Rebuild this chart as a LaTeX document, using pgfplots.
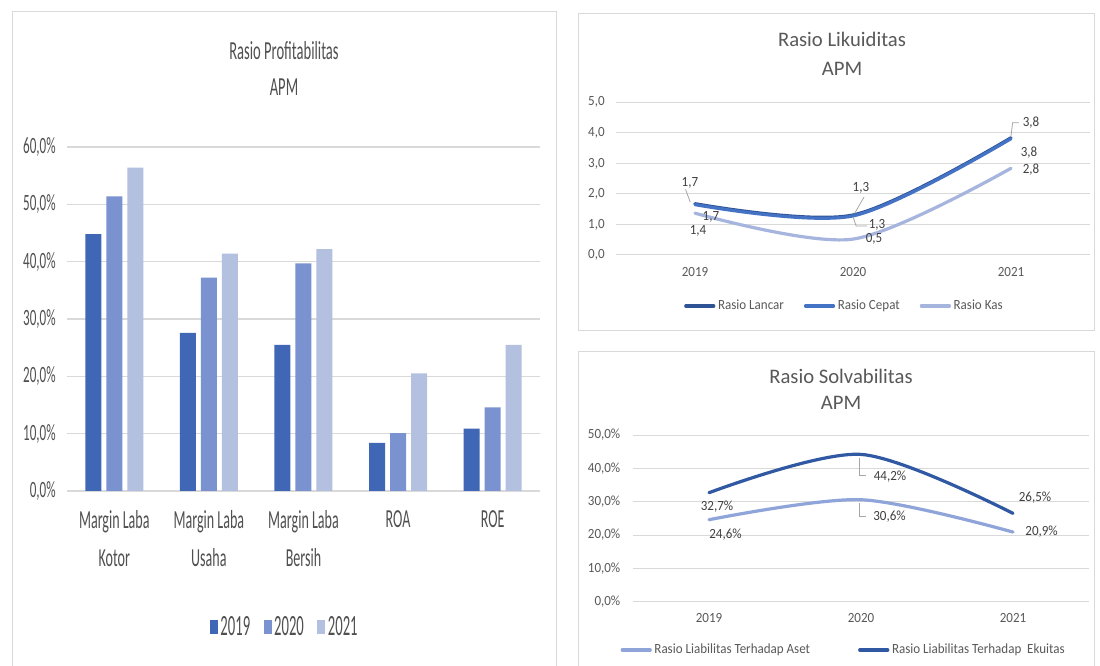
\documentclass[border=0pt]{standalone}
\usepackage{pgfplots}
\pgfplotsset{compat=1.18}
\usepackage{fontspec}
\setmainfont{Carlito}
\newfontfamily\nar[FakeStretch=0.54]{Carlito}
\newfontfamily\nart[FakeStretch=0.56]{Carlito}
\newfontfamily\narr[FakeStretch=0.5]{Carlito}
\newfontfamily\rt[FakeStretch=0.93]{Carlito}
\definecolor{txt}{HTML}{595959}
\definecolor{ltxt}{HTML}{505050}
\definecolor{dlab}{HTML}{404040}
\definecolor{gridc}{HTML}{D9D9D9}
\definecolor{framec}{HTML}{D9D9D9}
\definecolor{bA}{HTML}{3F67B5}
\definecolor{bB}{HTML}{7A92CF}
\definecolor{bC}{HTML}{B4C0E0}
\definecolor{lLan}{HTML}{2F5496}
\definecolor{lCep}{HTML}{4472C4}
\definecolor{lKas}{HTML}{A5B5DE}
\definecolor{sEk}{HTML}{3058A3}
\definecolor{sAs}{HTML}{8FA4D9}
\pgfplotsset{
  sqleg/.style={legend image code/.code={\fill[##1] (0pt,-5.5pt) rectangle (6pt,5.5pt);}},
  lnleg/.style={legend image code/.code={\draw[##1] (0pt,0pt) -- (21pt,0pt);}},
}
\begin{document}
\begin{tikzpicture}
\path[use as bounding box, fill=white] (0,0) rectangle (825pt,499.5pt);
% panel frames
\draw[framec, line width=0.75pt] (9pt,-2pt) -- (9pt,490.5pt) -- (417pt,490.5pt) -- (417pt,-2pt);
\draw[framec, line width=0.75pt] (433.5pt,251.25pt) rectangle (820.5pt,489pt);
\draw[framec, line width=0.75pt] (433.5pt,-2pt) -- (433.5pt,235.5pt) -- (820.5pt,235.5pt) -- (820.5pt,-2pt);

% ---------- Left: Rasio Profitabilitas ----------
\node[anchor=base, font=\nart\fontsize{19.5}{22}\selectfont, text=ltxt] at (213pt,454.5pt) {Rasio Profitabilitas};
\node[anchor=base, font=\nart\fontsize{19.5}{22}\selectfont, text=ltxt] at (213pt,427.5pt) {APM};
\begin{axis}[
  at={(50.25pt,131.25pt)}, anchor=south west, scale only axis,
  width=354.75pt, height=258pt,
  xmin=-0.5, xmax=4.5, ymin=0, ymax=60,
  ybar=3.75pt, bar width=12pt,
  axis line style={draw=none}, major tick length=0pt,
  ymajorgrids, grid style={gridc, line width=0.9pt},
  ytick={0,10,20,30,40,50,60},
  yticklabels={{0,0\%},{10,0\%},{20,0\%},{30,0\%},{40,0\%},{50,0\%},{60,0\%}},
  yticklabel style={font=\nart\fontsize{17.5}{20}\selectfont, text=ltxt, xshift=-5pt},
  xtick={0,1,2,3,4},
  xticklabels={{Margin Laba\\Kotor},{Margin Laba\\Usaha},{Margin Laba\\Bersih},{ROA},{ROE}},
  xticklabel style={align=center, font=\nar\fontsize{19.5}{28.5}\selectfont, text=ltxt, yshift=-11pt},
  legend style={at={(0.461,-0.395)}, anchor=center, draw=none, fill=none,
    font=\narr\fontsize{22}{24}\selectfont, text=ltxt,
    /tikz/every even column/.append style={column sep=8pt}},
  legend columns=3,
  clip=false,
]
\addplot[fill=bA, draw=none, sqleg] coordinates {(0,44.8) (1,27.6) (2,25.5) (3,8.4) (4,10.9)};
\addplot[fill=bB, draw=none, sqleg] coordinates {(0,51.4) (1,37.2) (2,39.7) (3,10.1) (4,14.6)};
\addplot[fill=bC, draw=none, sqleg] coordinates {(0,56.4) (1,41.4) (2,42.2) (3,20.5) (4,25.5)};
\legend{2019,2020,2021}
\end{axis}

% ---------- Right top: Rasio Likuiditas ----------
\node[anchor=base, font=\fontsize{15.5}{18}\selectfont, text=txt] at (631.5pt,464.5pt) {Rasio Likuiditas};
\node[anchor=base, font=\fontsize{15.5}{18}\selectfont, text=txt] at (631.5pt,442.5pt) {APM};
\begin{axis}[
  at={(462pt,308.25pt)}, anchor=south west, scale only axis,
  width=355.5pt, height=114.5pt,
  xmin=-0.5, xmax=2.5, ymin=0, ymax=5,
  axis line style={draw=none}, major tick length=0pt,
  ymajorgrids, grid style={gridc, line width=0.75pt},
  ytick={0,1,2,3,4,5},
  yticklabels={{0,0},{1,0},{2,0},{3,0},{4,0},{5,0}},
  yticklabel style={font=\rt\fontsize{10.5}{12}\selectfont, text=txt, xshift=-5pt},
  xtick={0,1,2}, xticklabels={2019,2020,2021},
  xticklabel style={font=\rt\fontsize{10.5}{12}\selectfont, text=txt, yshift=-6pt},
  legend style={at={(0.4826,-0.334)}, anchor=center, draw=none, fill=none,
    font=\rt\fontsize{10.5}{12}\selectfont, text=txt,
    /tikz/every even column/.append style={column sep=13pt}},
  legend columns=3,
  clip=false,
]
\addplot[lLan, line width=2.4pt, smooth, line cap=round, lnleg] coordinates {(0,1.68) (1,1.31) (2,3.84)};
\addplot[lCep, line width=2.4pt, smooth, line cap=round, lnleg] coordinates {(0,1.65) (1,1.28) (2,3.81)};
\addplot[lKas, line width=2.4pt, smooth, line cap=round, lnleg] coordinates {(0,1.37) (1,0.52) (2,2.84)};
\legend{Rasio Lancar,Rasio Cepat,Rasio Kas}
% leader lines
\draw[gray!70, line width=0.6pt] (axis cs:-0.03,1.73) -- (axis cs:-0.06,2.15);
\draw[gray!70, line width=0.6pt] (axis cs:1.01,1.36) -- (axis cs:1.07,1.9);
\draw[gray!70, line width=0.6pt] (axis cs:2.0,3.9) -- (axis cs:2.01,4.33) -- (axis cs:2.05,4.33);
\draw[gray!70, line width=0.6pt] (axis cs:1.0,1.25) -- (axis cs:1.02,0.95) -- (axis cs:1.09,0.95);
% data labels
\begin{scope}[every node/.style={font=\rt\fontsize{10.5}{12}\selectfont, text=dlab}]
\node at (axis cs:-0.032,2.36) {1,7};
\node at (axis cs:1.05,2.20) {1,3};
\node at (axis cs:2.127,4.33) {3,8};
\node at (axis cs:0.101,1.246) {1,7};
\node at (axis cs:1.152,0.98) {1,3};
\node at (axis cs:2.114,3.34) {3,8};
\node at (axis cs:0.019,0.787) {1,4};
\node at (axis cs:1.133,0.525) {0,5};
\node at (axis cs:2.127,2.79) {2,8};
\end{scope}
\end{axis}

% ---------- Right bottom: Rasio Solvabilitas ----------
\node[anchor=base, font=\fontsize{15.5}{18}\selectfont, text=txt] at (630.75pt,212pt) {Rasio Solvabilitas};
\node[anchor=base, font=\fontsize{15.5}{18}\selectfont, text=txt] at (630.75pt,192pt) {APM};
\begin{axis}[
  at={(474.75pt,48.2pt)}, anchor=south west, scale only axis,
  width=342pt, height=125pt,
  xmin=-0.5, xmax=2.5, ymin=0, ymax=50,
  axis line style={draw=none}, major tick length=0pt,
  ymajorgrids, grid style={gridc, line width=0.6pt},
  ytick={0,10,20,30,40,50},
  yticklabels={{0,0\%},{10,0\%},{20,0\%},{30,0\%},{40,0\%},{50,0\%}},
  yticklabel style={font=\rt\fontsize{10.5}{12}\selectfont, text=txt, xshift=-6pt},
  xtick={0,1,2}, xticklabels={2019,2020,2021},
  xticklabel style={font=\rt\fontsize{10.5}{12}\selectfont, text=txt, yshift=-5pt},
  legend style={at={(0.4627,-0.29)}, anchor=center, draw=none, fill=none,
    font=\rt\fontsize{10.5}{12}\selectfont, text=txt,
    /tikz/every even column/.append style={column sep=34pt}},
  legend columns=2,
  clip=false,
]
\addplot[sAs, line width=2.4pt, smooth, line cap=round, lnleg] coordinates {(0,24.6) (1,30.6) (2,20.9)};
\addplot[sEk, line width=2.4pt, smooth, line cap=round, lnleg] coordinates {(0,32.7) (1,44.2) (2,26.5)};
\legend{Rasio Liabilitas Terhadap Aset,Rasio Liabilitas Terhadap\ \ Ekuitas}
% leader lines
\draw[gray!70, line width=0.6pt] (axis cs:0.99,43.2) -- (axis cs:0.99,37.9) -- (axis cs:1.03,37.9);
\draw[gray!70, line width=0.6pt] (axis cs:0.99,29.6) -- (axis cs:0.99,25.5) -- (axis cs:1.03,25.5);
\begin{scope}[every node/.style={font=\rt\fontsize{10.5}{12}\selectfont, text=dlab}]
\node at (axis cs:0.053,28.5) {32,7\%};
\node at (axis cs:1.191,37.5) {44,2\%};
\node at (axis cs:2.145,31.2) {26,5\%};
\node at (axis cs:0.109,20.0) {24,6\%};
\node at (axis cs:1.1875,25.5) {30,6\%};
\node at (axis cs:2.188,21.0) {20,9\%};
\end{scope}
\end{axis}
\end{tikzpicture}
\end{document}
